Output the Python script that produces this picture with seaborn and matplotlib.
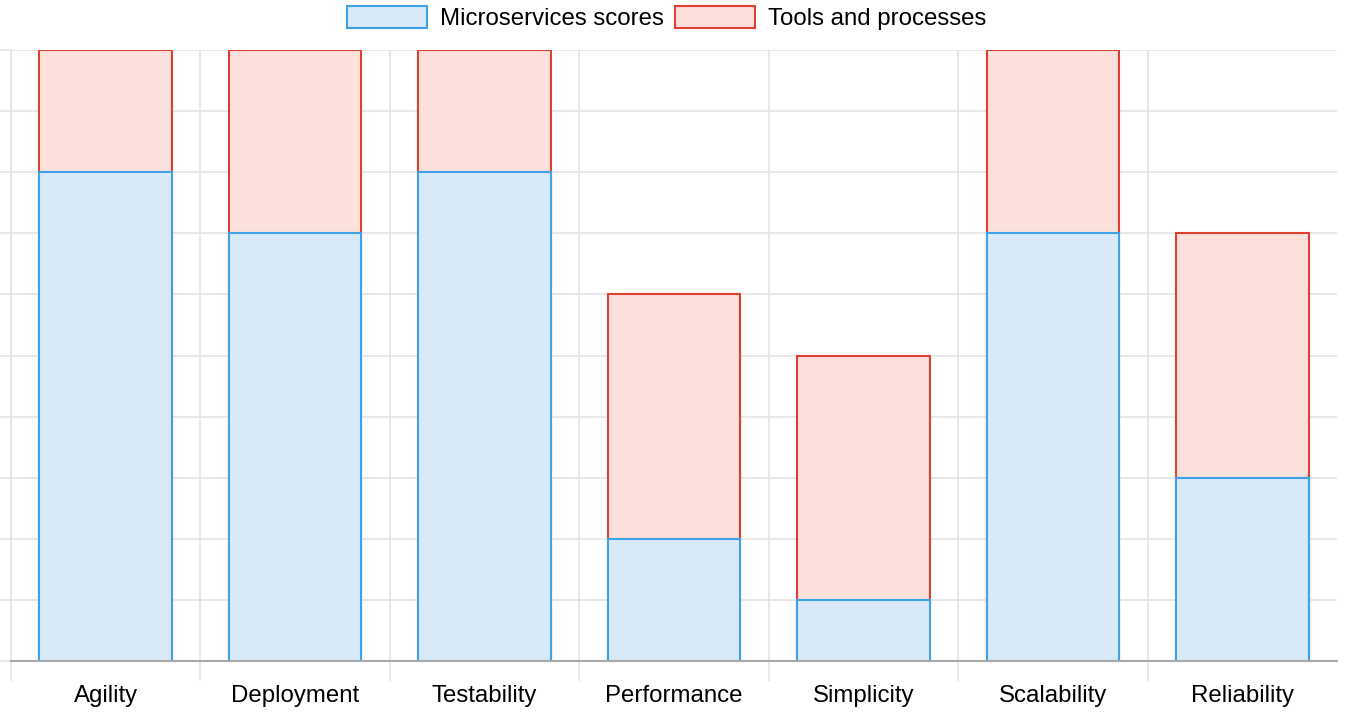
import pandas as pd
import seaborn as sns
import matplotlib.pyplot as plt
from matplotlib.patches import Patch

# data
categories = ['Agility', 'Deployment', 'Testability', 'Performance',
              'Simplicity', 'Scalability', 'Reliability']
micro_scores = [8, 7, 8, 2, 1, 7, 3]
tools_scores = [2, 3, 2, 4, 4, 3, 4]

df = pd.DataFrame({'category': categories,
                   'micro': micro_scores,
                   'tools': tools_scores})
df['total'] = df['micro'] + df['tools']

sns.set_theme(style='white')
plt.rcParams['font.family'] = ['Liberation Sans', 'DejaVu Sans']

blue_edge, blue_fill = '#3fa2e8', '#d8eaf8'
red_edge, red_fill = '#e0402f', '#fbe0db'
grid_col = '#e4e4e4'

fig = plt.figure(figsize=(13.54, 7.26), dpi=100)
ax = fig.add_axes([11 / 1354, 65 / 726, 1326 / 1354, 611 / 726])

# stacked: total first (red), micro on top (blue)
sns.barplot(data=df, x='category', y='total', color=red_fill, width=0.7,
            edgecolor=red_edge, linewidth=1.5, saturation=1, ax=ax, zorder=2)
sns.barplot(data=df, x='category', y='micro', color=blue_fill, width=0.7,
            edgecolor=blue_edge, linewidth=1.5, saturation=1, ax=ax, zorder=3)

ax.set_xlim(-0.5, len(categories) - 0.5)
ax.set_ylim(0, 10)
ax.set_xlabel('')
ax.set_ylabel('')

ax.set_yticks(range(0, 11))
ax.set_yticklabels([])
ax.set_xticks(range(len(categories)))
ax.set_xticklabels(categories, fontsize=17.3, color='#000000')
# category boundaries, no line on the far right edge
ax.set_xticks([i - 0.5 for i in range(len(categories))], minor=True)

ax.tick_params(axis='x', which='major', length=0, pad=17)
ax.tick_params(axis='x', which='minor', length=14.4, width=1.2,
               color=grid_col, direction='out', bottom=True)
ax.tick_params(axis='y', which='major', length=8, width=1.2,
               color=grid_col, left=True)

ax.grid(True, which='major', axis='y', color=grid_col, linewidth=1.2, zorder=0)
ax.grid(True, which='minor', axis='x', color=grid_col, linewidth=1.2, zorder=0)
ax.set_axisbelow(True)

for side in ['top', 'right']:
    ax.spines[side].set_visible(False)
ax.spines['left'].set_color(grid_col)
ax.spines['left'].set_linewidth(1.2)
ax.spines['bottom'].set_color('#a8a8a8')
ax.spines['bottom'].set_linewidth(1.5)
ax.spines['bottom'].set_zorder(5)

handles = [Patch(facecolor=blue_fill, edgecolor=blue_edge, linewidth=1.5),
           Patch(facecolor=red_fill, edgecolor=red_edge, linewidth=1.5)]
fig.legend(handles, ['Microservices scores', 'Tools and processes'],
           loc='center', bbox_to_anchor=(667 / 1354, 1 - 18 / 726),
           ncol=2, frameon=False, fontsize=17.3, labelcolor='#000000',
           handlelength=3.33, handleheight=1.0, handletextpad=0.55,
           columnspacing=0.45, borderpad=0, borderaxespad=0)

fig.savefig('out.png', dpi=100)
